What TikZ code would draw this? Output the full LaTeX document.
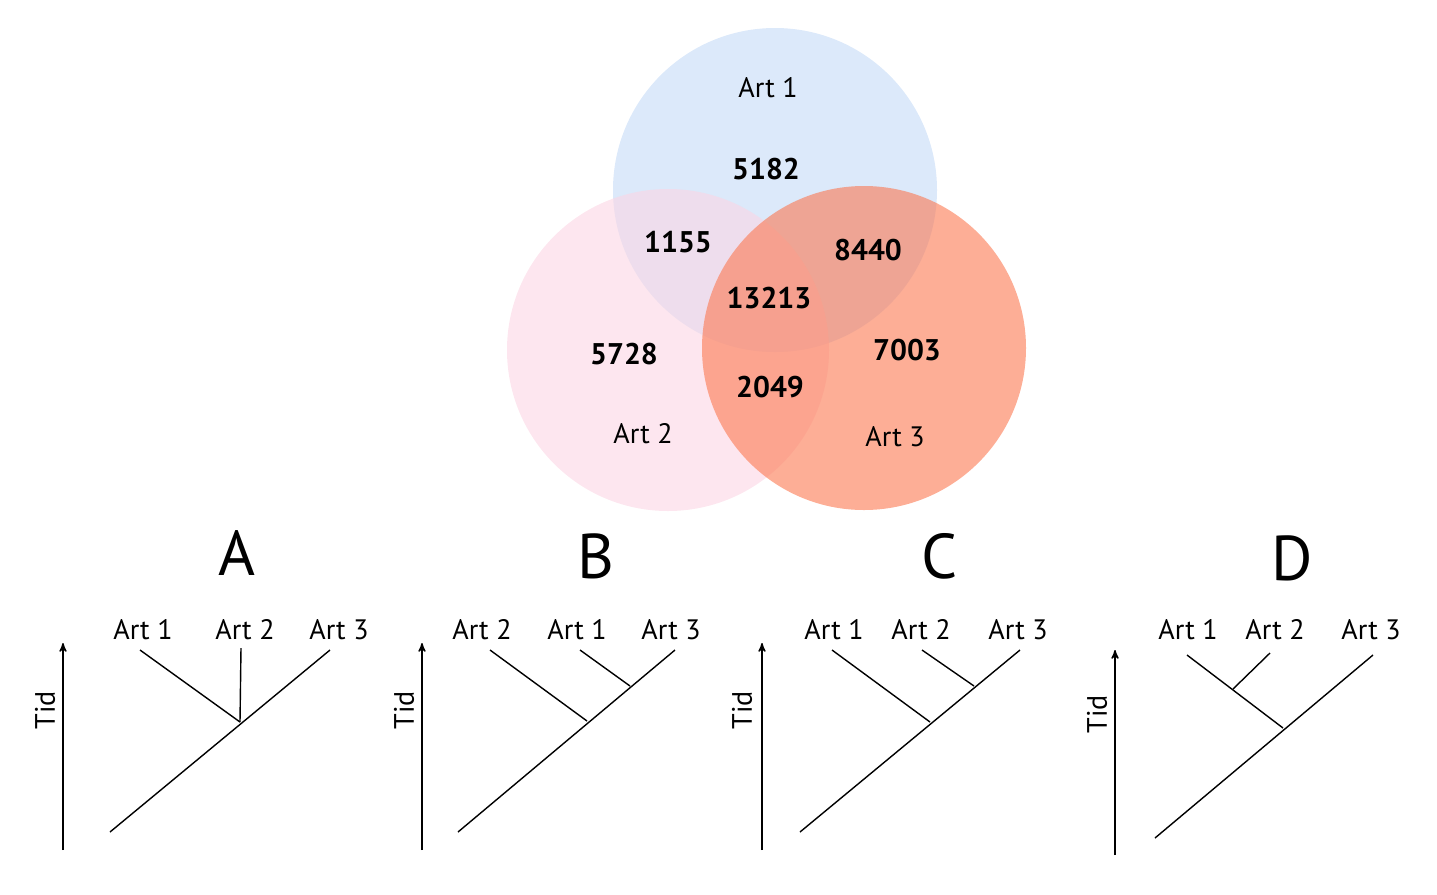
\documentclass[tikz,border=0pt]{standalone}
\usepackage{fontspec}
\setmainfont{PT Sans}
\usetikzlibrary{arrows}
\definecolor{xblue}{RGB}{196,218,246}
\definecolor{xpink}{RGB}{251,214,228}
\definecolor{xorange}{RGB}{251,120,80}
\begin{document}
\begin{tikzpicture}[x=0.02cm,y=-0.02cm,>=stealth']
\tikzset{set/.style={draw=none,fill opacity=0.6}}
\tikzset{num/.style={font=\fontsize{17}{17}\selectfont\bfseries}}
\tikzset{lbl/.style={font=\fontsize{16}{16}\selectfont}}
\tikzset{head/.style={font=\fontsize{36}{36}\selectfont}}
\tikzset{tid/.style={->,line width=0.8pt}}
\tikzset{br/.style={line width=0.8pt}}
\useasboundingbox (0,0) rectangle (1437,894);
% venn
\fill[set,xblue] (775,190) circle (162);
\fill[set,xpink] (668,350) circle (161);
\fill[set,xorange] (864,348) circle (162);
\node[lbl] (s1) at (768,88) {Art 1};
\node[lbl] (s2) at (643,434) {Art 2};
\node[lbl] (s3) at (895,437) {Art 3};
\node[num] (n1) at (766,169) {5182};
\node[num] (n12) at (678,242) {1155};
\node[num] (n13) at (868,250) {8440};
\node[num] (n123) at (769,298) {13213};
\node[num] (n2) at (624,354) {5728};
\node[num] (n3) at (907,350) {7003};
\node[num] (n23) at (770,387) {2049};
% tree A
\node[head] (hA) at (237,553) {A};
\coordinate (a0) at (63,850); \coordinate (a1) at (63,643);
\draw[tid] (a0) -- (a1);
\node[lbl,rotate=90] (tA) at (45,710) {Tid};
\node[lbl] (A1) at (143,630) {Art 1};
\node[lbl] (A2) at (245,630) {Art 2};
\node[lbl] (A3) at (339,630) {Art 3};
\coordinate (ar) at (110,832); \coordinate (aj) at (240,722);
\draw[br] (ar) -- (330,650);
\draw[br] (140,650) -- (aj);
\draw[br] (241,648) -- (aj);
% tree B
\node[head] (hB) at (596,556) {B};
\draw[tid] (422,850) -- (422,643);
\node[lbl,rotate=90] (tB) at (404,710) {Tid};
\node[lbl] (B2) at (482,630) {Art 2};
\node[lbl] (B1) at (577,630) {Art 1};
\node[lbl] (B3) at (671,630) {Art 3};
\coordinate (br) at (458,832); \coordinate (bj1) at (587,721); \coordinate (bj2) at (630,686);
\draw[br] (br) -- (675,650);
\draw[br] (490,650) -- (bj1);
\draw[br] (580,650) -- (bj2);
% tree C
\node[head] (hC) at (940,556) {C};
\draw[tid] (762,850) -- (762,643);
\node[lbl,rotate=90] (tC) at (742,710) {Tid};
\node[lbl] (C1) at (834,630) {Art 1};
\node[lbl] (C2) at (921,630) {Art 2};
\node[lbl] (C3) at (1018,630) {Art 3};
\coordinate (cr) at (800,832); \coordinate (cj1) at (930,722); \coordinate (cj2) at (974,686);
\draw[br] (cr) -- (1020,650);
\draw[br] (832,650) -- (cj1);
\draw[br] (922,650) -- (cj2);
% tree D
\node[head] (hD) at (1292,558) {D};
\draw[tid] (1115,855) -- (1115,650);
\node[lbl,rotate=90] (tD) at (1097,714) {Tid};
\node[lbl] (D1) at (1188,630) {Art 1};
\node[lbl] (D2) at (1275,630) {Art 2};
\node[lbl] (D3) at (1371,630) {Art 3};
\coordinate (dr) at (1155,838); \coordinate (dj1) at (1283,728); \coordinate (dj2) at (1233,689);
\draw[br] (dr) -- (1373,655);
\draw[br] (1187,655) -- (dj1);
\draw[br] (1270,653) -- (dj2);
\end{tikzpicture}
\end{document}
